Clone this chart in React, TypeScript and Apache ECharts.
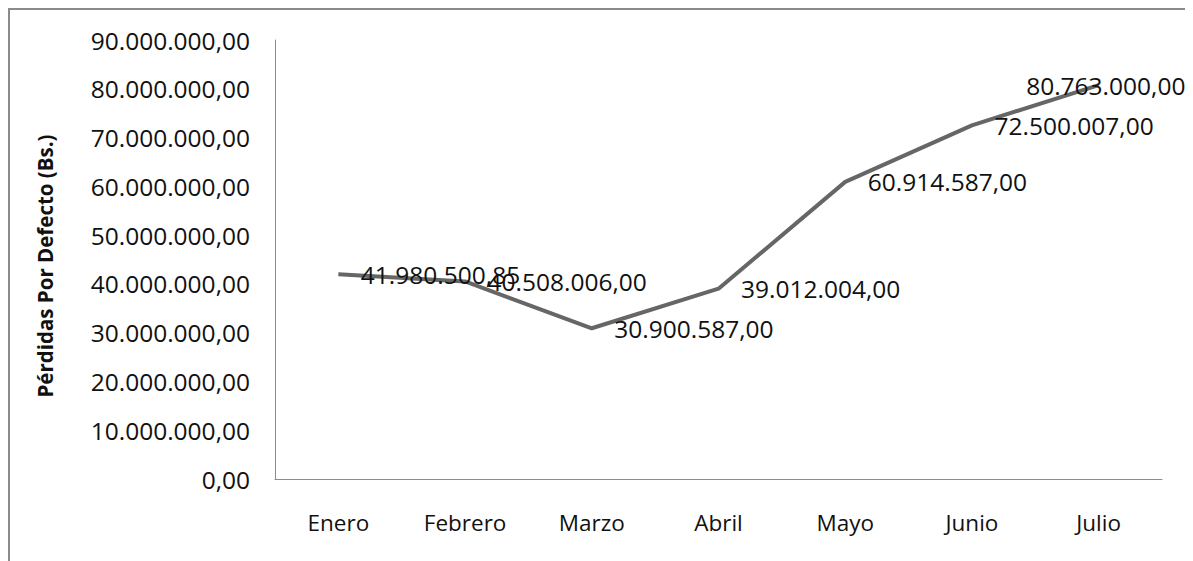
import React, { useEffect, useRef } from "react";
import * as echarts from "echarts";

const months = ["Enero", "Febrero", "Marzo", "Abril", "Mayo", "Junio", "Julio"];
const losses = [41980500.85, 40508006, 30900587, 39012004, 60914587, 72500007, 80763000];
const yTitle = "Pérdidas Por Defecto (Bs.)";
const yMax = 90000000;
const yStep = 10000000;

function fmt(v: number): string {
  const fixed = Math.abs(v).toFixed(2);
  const [intPart, dec] = fixed.split(".");
  const withDots = intPart.replace(/\B(?=(\d{3})+(?!\d))/g, ".");
  return (v < 0 ? "-" : "") + withDots + "," + dec;
}

const FONT = "'Open Sans', 'Noto Sans', sans-serif";
const NUM_SIZE = 24.5;

export default function App() {
  const ref = useRef<HTMLDivElement>(null);
  useEffect(() => {
    if (!ref.current) return;
    const chart = echarts.init(ref.current, undefined, { renderer: "svg" });
    const lastIdx = losses.length - 1;
    chart.setOption({
      animation: false,
      backgroundColor: "#ffffff",
      graphic: [
        {
          type: "rect",
          shape: { x: 1, y: 1, width: 1178, height: 600 },
          style: { fill: "none", stroke: "#8a8a8a", lineWidth: 2 },
          silent: true,
        },
      ],
      grid: { left: 267, top: 32, right: 31, bottom: 82, containLabel: false },
      xAxis: {
        type: "category",
        data: months,
        boundaryGap: true,
        axisLine: { lineStyle: { color: "#8c8c8c", width: 1 } },
        axisTick: { show: false },
        axisLabel: { color: "#111", fontSize: 22.5, fontFamily: FONT, margin: 32 },
        splitLine: { show: false },
      },
      yAxis: {
        type: "value",
        min: 0,
        max: yMax,
        interval: yStep,
        name: yTitle,
        nameLocation: "middle",
        nameGap: 220,
        nameRotate: 90,
        nameTextStyle: { color: "#111", fontSize: 20.5, fontWeight: "bold", fontFamily: FONT, padding: [0, 13, 0, 0] },
        axisLine: { show: true, lineStyle: { color: "#8c8c8c", width: 1 } },
        axisTick: { show: false },
        axisLabel: {
          color: "#111",
          fontSize: NUM_SIZE,
          fontFamily: FONT,
          margin: 25,
          formatter: (v: number) => fmt(v),
        },
        splitLine: { show: false },
      },
      series: [
        {
          type: "line",
          data: losses,
          symbol: "circle",
          symbolSize: 1,
          showSymbol: true,
          itemStyle: { color: "rgba(0,0,0,0)", borderWidth: 0 },
          lineStyle: { color: "#666666", width: 4 },
          labelLayout: (p: any) => (p.dataIndex === lastIdx ? { dx: -95, hideOverlap: false } : { hideOverlap: false }),
          label: {
            show: true,
            position: "right",
            distance: 22,
            color: "#111",
            fontSize: NUM_SIZE,
            fontFamily: FONT,
            formatter: (p: any) => fmt(p.value),
          },
        },
      ],
    });
    return () => chart.dispose();
  }, []);
  return <div ref={ref} style={{ width: 1185, height: 553 }} />;
}
